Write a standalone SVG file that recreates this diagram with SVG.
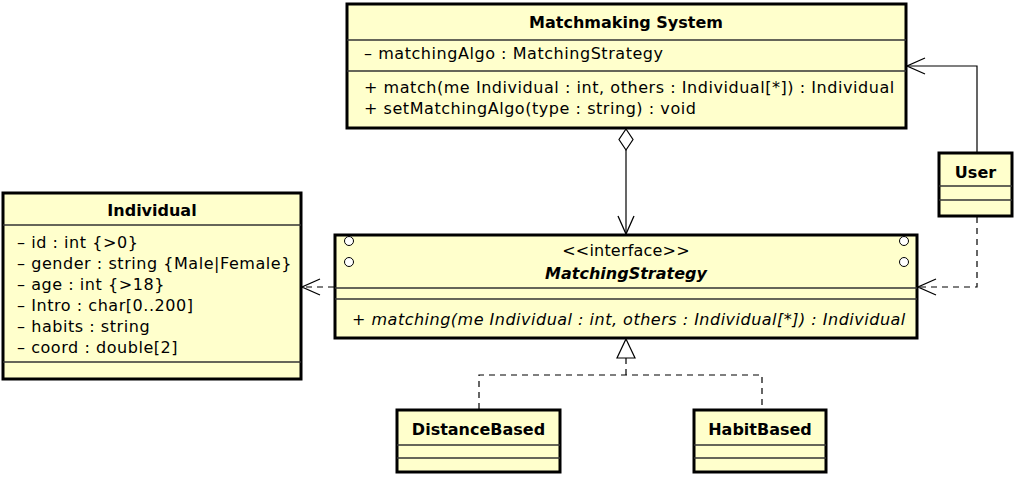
<svg xmlns="http://www.w3.org/2000/svg" width="1018" height="480" viewBox="0 0 1018 480">
<style>
.box{fill:#FFFFCC;stroke:#000;stroke-width:3}
.sep{stroke:#333;stroke-width:1.3}
.t{font-family:"DejaVu Sans",sans-serif;font-size:16px;fill:#000;letter-spacing:0.55px}
.b{font-weight:bold;text-anchor:middle;letter-spacing:0}
.i{font-style:italic}
.ln{fill:none;stroke:#000;stroke-width:1.2}
.dash{stroke-dasharray:6,5}
.circ{fill:#fff;stroke:#000;stroke-width:1}
</style>
<defs>
<marker id="open" viewBox="0 0 20 20" refX="19" refY="10" markerWidth="20" markerHeight="20" markerUnits="userSpaceOnUse" orient="auto">
<path d="M1,2 L19,10 L1,18" fill="none" stroke="#000" stroke-width="1.3"/>
</marker>
</defs>
<g id="connectors">
<path class="ln" d="M626,150 L626,234" marker-end="url(#open)"/>
<path d="M626,129 L633,139.5 L626,150 L619,139.5 Z" fill="#fff" stroke="#000" stroke-width="1.2"/>
<path class="ln" d="M977,152 L977,66 L907,66" marker-end="url(#open)"/>
<path class="ln dash" d="M977,217 L977,287 L918,287" marker-end="url(#open)"/>
<path class="ln dash" d="M334,287 L302,287" marker-end="url(#open)"/>
<path class="ln dash" d="M626,358 L626,375 M479,409 L479,375 L762,375 L762,409"/>
<path d="M626,339 L635,358 L617,358 Z" fill="#fff" stroke="#000" stroke-width="1.2"/>
</g>
<g id="matchmaking">
<rect class="box" x="347" y="4" width="559" height="124"/>
<line class="sep" x1="347" y1="40" x2="906" y2="40"/>
<line class="sep" x1="347" y1="71" x2="906" y2="71"/>
<text class="t b" x="626" y="28">Matchmaking System</text>
<text class="t" x="364" y="59">– matchingAlgo : MatchingStrategy</text>
<text class="t" x="364" y="93">+ match(me Individual : int, others : Individual[*]) : Individual</text>
<text class="t" x="364" y="114">+ setMatchingAlgo(type : string) : void</text>
</g>
<g id="individual">
<rect class="box" x="3" y="193" width="298" height="186"/>
<line class="sep" x1="3" y1="225" x2="301" y2="225"/>
<line class="sep" x1="3" y1="362" x2="301" y2="362"/>
<text class="t b" x="152" y="216">Individual</text>
<text class="t" x="17" y="248">– id : int {&gt;0}</text>
<text class="t" x="17" y="269">– gender : string {Male|Female}</text>
<text class="t" x="17" y="290">– age : int {&gt;18}</text>
<text class="t" x="17" y="311">– Intro : char[0..200]</text>
<text class="t" x="17" y="332">– habits : string</text>
<text class="t" x="17" y="353">– coord : double[2]</text>
</g>
<g id="matchingstrategy">
<rect class="box" x="335" y="235" width="582" height="103"/>
<line class="sep" x1="335" y1="288" x2="917" y2="288"/>
<line class="sep" x1="335" y1="299" x2="917" y2="299"/>
<circle class="circ" cx="349" cy="241" r="4.5"/>
<circle class="circ" cx="349" cy="262" r="4.5"/>
<circle class="circ" cx="904" cy="241" r="4.5"/>
<circle class="circ" cx="904" cy="262" r="4.5"/>
<text class="t" x="626" y="256" text-anchor="middle" style="letter-spacing:0.2px">&lt;&lt;interface&gt;&gt;</text>
<text class="t b i" x="626" y="279">MatchingStrategy</text>
<text class="t i" x="352" y="325" style="letter-spacing:0.5px">+ matching(me Individual : int, others : Individual[*]) : Individual</text>
</g>
<g id="user">
<rect class="box" x="939" y="153" width="73" height="63"/>
<line class="sep" x1="939" y1="186" x2="1012" y2="186"/>
<line class="sep" x1="939" y1="200" x2="1012" y2="200"/>
<text class="t b" x="975.5" y="178">User</text>
</g>
<g id="distancebased">
<rect class="box" x="397" y="410" width="163" height="62"/>
<line class="sep" x1="397" y1="445" x2="560" y2="445"/>
<line class="sep" x1="397" y1="458" x2="560" y2="458"/>
<text class="t b" x="478.5" y="435">DistanceBased</text>
</g>
<g id="habitbased">
<rect class="box" x="694" y="410" width="132" height="62"/>
<line class="sep" x1="694" y1="445" x2="826" y2="445"/>
<line class="sep" x1="694" y1="458" x2="826" y2="458"/>
<text class="t b" x="760" y="435">HabitBased</text>
</g>
</svg>
